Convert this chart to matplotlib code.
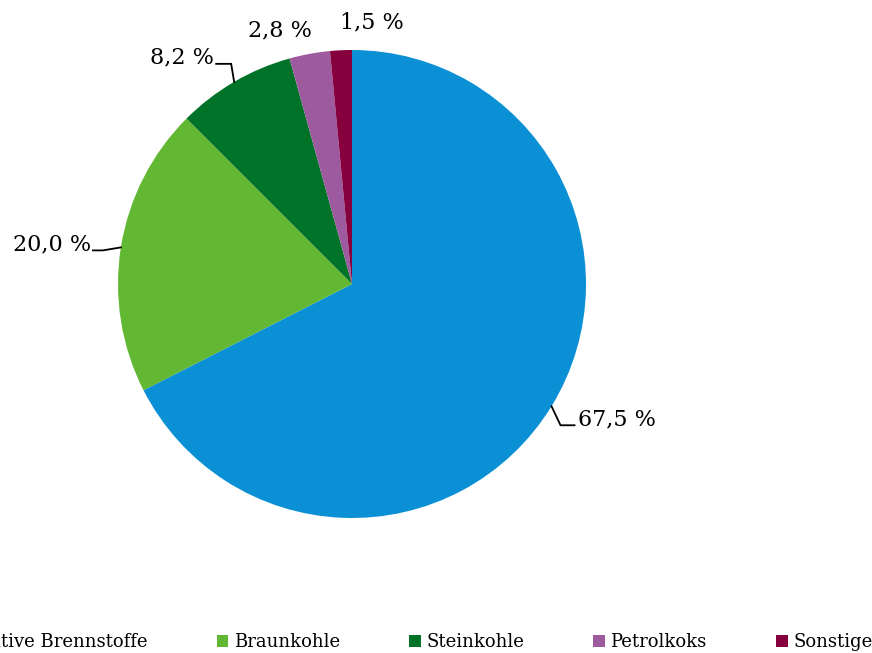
import numpy as np
import matplotlib
matplotlib.use("Agg")
import matplotlib.pyplot as plt
from matplotlib.patches import Patch

# data
categories = ["Alternative Brennstoffe", "Braunkohle", "Steinkohle", "Petrolkoks", "Sonstige"]
shares = [67.5, 20.0, 8.2, 2.8, 1.5]
labels = ["67,5 %", "20,0 %", "8,2 %", "2,8 %", "1,5 %"]
colors = ["#0b90d6", "#62b733", "#007328", "#9e5a9e", "#86003d"]

W, H = 872, 653
plt.rcParams['font.family'] = ['DejaVu Serif']

fig = plt.figure(figsize=(W / 100, H / 100), dpi=100)
ax = fig.add_axes([0, 0, 1, 1])

cx, cy, r = 352, H - 284, 234
wedges, _ = ax.pie(shares, colors=colors, startangle=90, counterclock=False,
                   center=(cx, cy), radius=r, frame=True,
                   wedgeprops=dict(linewidth=0))
ax.set_xlim(0, W)
ax.set_ylim(0, H)
ax.set_aspect("equal")
ax.axis("off")

# label placement (pixel offsets from wedge edge); None = no leader line
# (dx_elbow, dy_elbow, dx_end, text ha)
leaders = [(9, -19, 23, "left"), (-18, -3, -28, "right"), (-3, 18, -18, "right"), None, None]
free_pos = [None, None, None, (280, 30), (372, 22)]

for w, lab, ld, fp in zip(wedges, labels, leaders, free_pos):
    ang = np.deg2rad((w.theta1 + w.theta2) / 2)
    ex, ey = cx + r * np.cos(ang), cy + r * np.sin(ang)
    if ld is None:
        ax.text(fp[0], H - fp[1], lab, ha="center", va="center", fontsize=16)
        continue
    dxe, dye, dxend, ha = ld
    bx, by = ex + dxe, ey + dye
    tx = bx + (dxend - dxe)
    ax.plot([ex, bx, tx], [ey, by, by], color="black", lw=1.3, solid_joinstyle="miter")
    ax.text(tx + (3 if ha == "left" else -2), by + 6, lab, ha=ha, va="center", fontsize=16)

# legend runs off the left edge like in the original
handles = [Patch(facecolor=c, edgecolor="none") for c in colors]
ax.legend(handles, categories, ncol=5, loc="center", bbox_to_anchor=(394 / W, 1 - 642 / H),
          frameon=False, fontsize=13, handlelength=0.66, handleheight=0.66,
          handletextpad=0.3, columnspacing=3.82, borderaxespad=0)

fig.savefig("out.png", dpi=100)
